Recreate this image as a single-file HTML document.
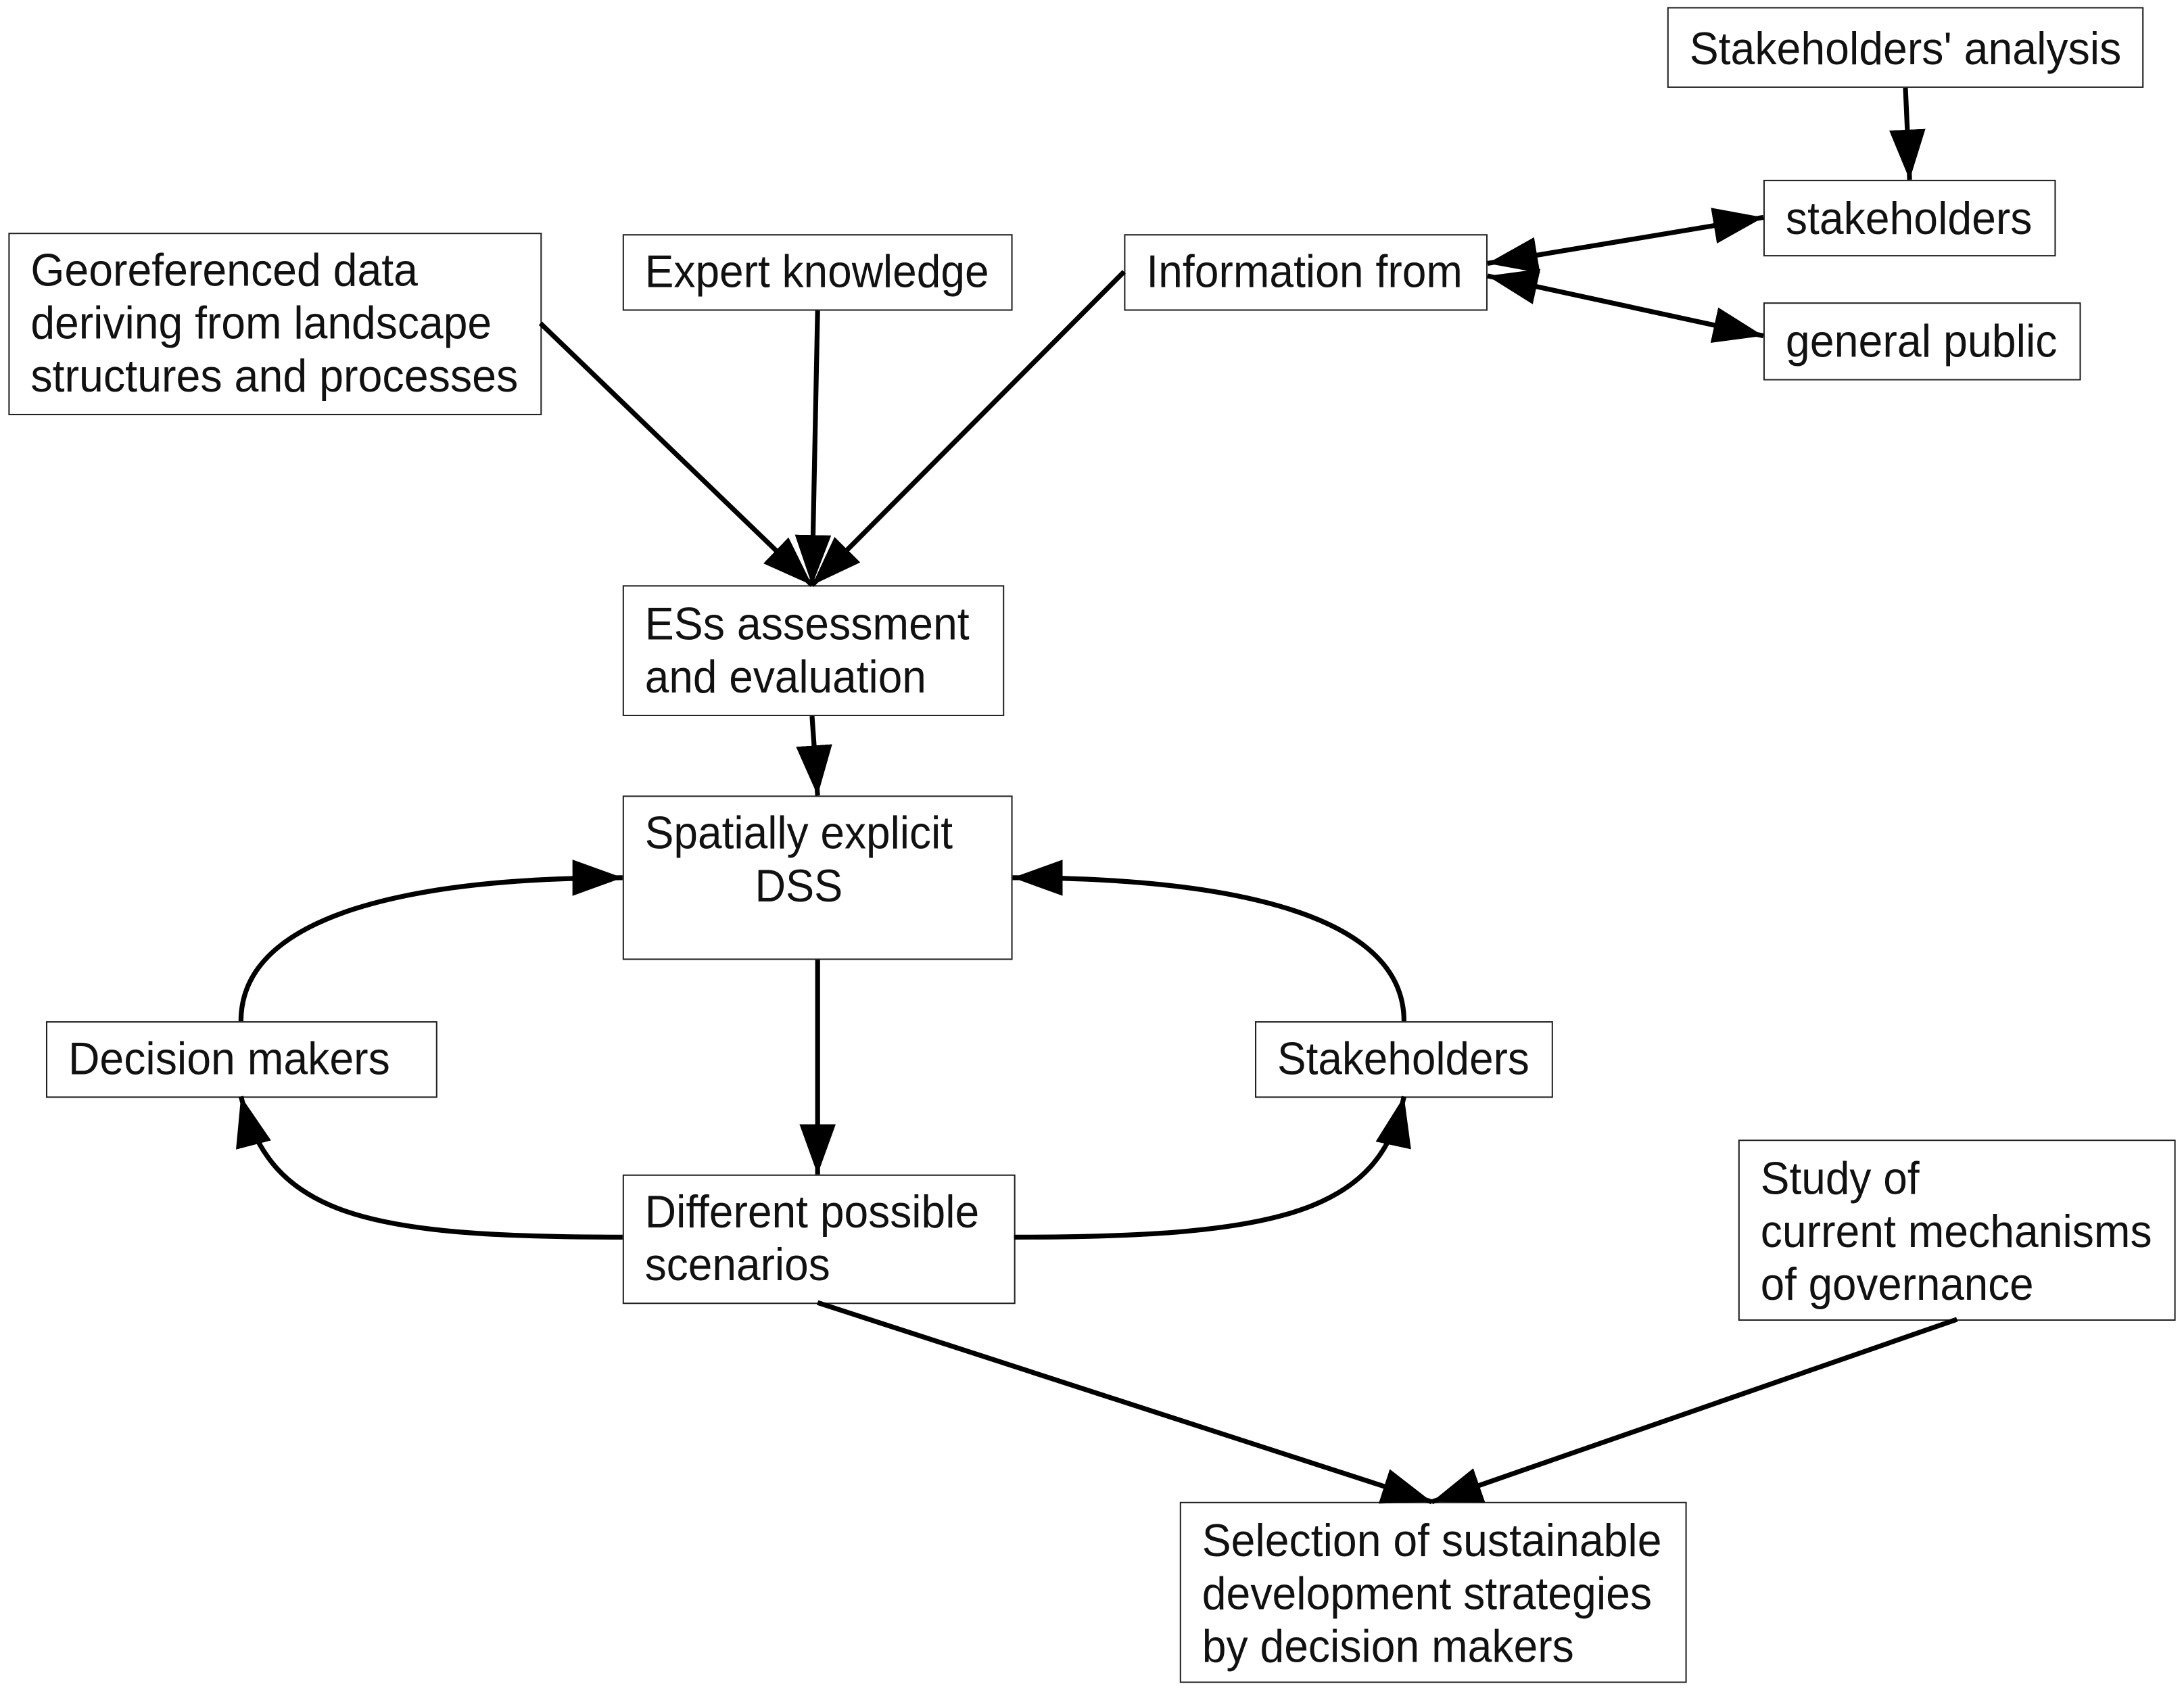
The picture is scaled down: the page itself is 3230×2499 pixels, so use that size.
<!DOCTYPE html>
<html><head><meta charset="utf-8"><style>html,body{margin:0;padding:0;background:#fff}svg{display:block}</style></head>
<body>
<svg width="3230" height="2499" viewBox="0 0 1568 1213" xmlns="http://www.w3.org/2000/svg">
<defs>
<marker id="a" markerUnits="userSpaceOnUse" markerWidth="40" markerHeight="30" refX="36" refY="13" orient="auto">
<path d="M0,0 L36,13 L0,26 Z" fill="#000"/></marker>
<marker id="s" markerUnits="userSpaceOnUse" markerWidth="40" markerHeight="30" refX="0" refY="13" orient="auto">
<path d="M36,0 L0,13 L36,26 Z" fill="#000"/></marker>
</defs>
<rect width="1568" height="1213" fill="#fff"/>
<g fill="#fff" stroke="#222" stroke-width="1">
<rect x="1197.5" y="5.5" width="341" height="57"/>
<rect x="1266.5" y="129.5" width="209" height="54"/>
<rect x="1266.5" y="217.5" width="227" height="55"/>
<rect x="6.5" y="167.5" width="382" height="130"/>
<rect x="447.5" y="168.5" width="279" height="54"/>
<rect x="807.5" y="168.5" width="260" height="54"/>
<rect x="447.5" y="420.5" width="273" height="93"/>
<rect x="447.5" y="571.5" width="279" height="117"/>
<rect x="33.5" y="733.5" width="280" height="54"/>
<rect x="901.5" y="733.5" width="213" height="54"/>
<rect x="447.5" y="843.5" width="281" height="92"/>
<rect x="1248.5" y="818.5" width="313" height="129"/>
<rect x="847.5" y="1078.5" width="363" height="129"/>
</g>
<g font-family="Liberation Sans, sans-serif" font-size="33" fill="#111">
<text x="1213" y="46" textLength="310" lengthAdjust="spacingAndGlyphs">Stakeholders' analysis</text>
<text x="1282" y="168" textLength="177" lengthAdjust="spacingAndGlyphs">stakeholders</text>
<text x="1282" y="256" textLength="195" lengthAdjust="spacingAndGlyphs">general public</text>
<text x="22" y="205" textLength="278" lengthAdjust="spacingAndGlyphs">Georeferenced data</text>
<text x="22" y="243" textLength="331" lengthAdjust="spacingAndGlyphs">deriving from landscape</text>
<text x="22" y="281" textLength="350" lengthAdjust="spacingAndGlyphs">structures and processes</text>
<text x="463" y="206" textLength="247" lengthAdjust="spacingAndGlyphs">Expert knowledge</text>
<text x="823" y="206" textLength="227" lengthAdjust="spacingAndGlyphs">Information from</text>
<text x="463" y="459" textLength="233" lengthAdjust="spacingAndGlyphs">ESs assessment</text>
<text x="463" y="497" textLength="202" lengthAdjust="spacingAndGlyphs">and evaluation</text>
<text x="463" y="609" textLength="221" lengthAdjust="spacingAndGlyphs">Spatially explicit</text>
<text x="542" y="647" textLength="63" lengthAdjust="spacingAndGlyphs">DSS</text>
<text x="49" y="771" textLength="231" lengthAdjust="spacingAndGlyphs">Decision makers</text>
<text x="917" y="771" textLength="181" lengthAdjust="spacingAndGlyphs">Stakeholders</text>
<text x="463" y="881" textLength="240" lengthAdjust="spacingAndGlyphs">Different possible</text>
<text x="463" y="919" textLength="133" lengthAdjust="spacingAndGlyphs">scenarios</text>
<text x="1264" y="857" textLength="114" lengthAdjust="spacingAndGlyphs">Study of</text>
<text x="1264" y="895" textLength="281" lengthAdjust="spacingAndGlyphs">current mechanisms</text>
<text x="1264" y="933" textLength="196" lengthAdjust="spacingAndGlyphs">of governance</text>
<text x="863" y="1117" textLength="330" lengthAdjust="spacingAndGlyphs">Selection of sustainable</text>
<text x="863" y="1155" textLength="323" lengthAdjust="spacingAndGlyphs">development strategies</text>
<text x="863" y="1193" textLength="267" lengthAdjust="spacingAndGlyphs">by decision makers</text>
</g>
<g fill="none" stroke="#000" stroke-width="3.5" marker-end="url(#a)">
<path d="M1368,63 L1371,129"/>
<path d="M1068,189 L1266,156" marker-start="url(#s)"/>
<path d="M1068,198 L1266,241" marker-start="url(#s)"/>
<path d="M388,232 L583,420"/>
<path d="M587,223 L583,420"/>
<path d="M807,195 L583,420"/>
<path d="M583,514 L587,571"/>
<path d="M587,689 L587,843"/>
<path d="M173,733 C173,655 300,630 447,630"/>
<path d="M1008,733 C1008,655 880,630 727,630"/>
<path d="M447,888 C260,888 195,872 173,787"/>
<path d="M728,888 C920,888 990,870 1008,787"/>
<path d="M587,935 L1028,1078"/>
<path d="M1405,947 L1028,1078"/>
</g>
</svg>
</body></html>
